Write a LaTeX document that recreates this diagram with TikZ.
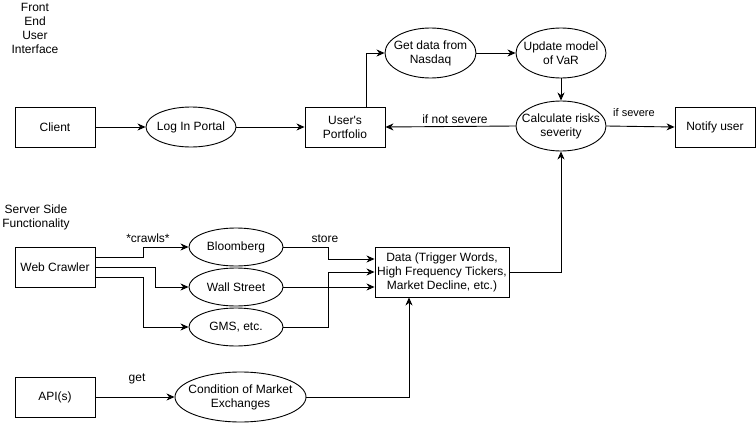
\documentclass[tikz,border=0pt]{standalone}
\usepackage{fontspec}
\setmainfont{Liberation Sans}[Ligatures=TeXOff]
\usetikzlibrary{shapes.geometric,arrows.meta}
\begin{document}
\begin{tikzpicture}[x=1pt,y=-1pt,
  every node/.style={font=\fontsize{12}{14}\selectfont, align=center, inner sep=0pt},
  boxnode/.style={draw, rectangle, line width=0.9pt, minimum width=80pt, minimum height=40pt},
  ellnode/.style={draw, ellipse, line width=0.9pt},
  lbl/.style={font=\fontsize{12}{14}\selectfont},
  arr/.style={line width=0.9pt, -{Stealth[length=8pt,width=7pt,inset=2.5pt]}}]
\useasboundingbox (0,0) rectangle (756,423);
\fill[white] (0,0) rectangle (756,423);

% titles
\node (fetitle) at (35,28) {Front\\End\\User\\Interface};
\node (sstitle) at (36,217) {Server Side\\Functionality};

% front end
\node[boxnode] (client) at (55,127) {Client};
\node[ellnode, minimum width=90pt, minimum height=40pt] (login) at (191,127) {};
\node at (login) {Log In Portal};
\node[boxnode] (portfolio) at (345,127) {User's\\Portfolio};
\node[ellnode, minimum width=91pt, minimum height=50pt] (getdata) at (430.5,53) {};
\node at (getdata) {Get data from\\Nasdaq};
\node[ellnode, minimum width=90pt, minimum height=50pt] (update) at (561,53) {};
\node at (update) {Update model\\of VaR};
\node[ellnode, minimum width=90pt, minimum height=50pt] (calc) at (561,126) {};
\node at (calc) {Calculate risks\\severity};
\node[boxnode] (notify) at (715,127) {Notify user};

% server side
\node[boxnode] (crawler) at (55,267) {Web Crawler};
\node[ellnode, minimum width=94pt, minimum height=38pt] (bloom) at (236,247) {};
\node at (bloom) {Bloomberg};
\node[ellnode, minimum width=94pt, minimum height=38pt] (wall) at (236,287) {};
\node at (wall) {Wall Street};
\node[ellnode, minimum width=94pt, minimum height=38pt] (gms) at (236,327) {};
\node at (gms) {GMS, etc.};
\node[boxnode, minimum width=134pt, minimum height=50pt] (data) at (442,272) {Data (Trigger Words,\\High Frequency Tickers,\\Market Decline, etc.)};
\node[boxnode] (api) at (55,397) {API(s)};
\node[ellnode, minimum width=131pt, minimum height=50pt] (cond) at (240.5,397) {};
\node at (cond) {Condition of Market\\Exchanges};

% connectors
\draw[arr] (client.east) -- (login.west);
\draw[arr] (login.east) -- (portfolio.west);
\draw[arr] ([xshift=21pt]portfolio.north) |- (getdata.west);
\draw[arr] (getdata.east) -- (update.west);
\draw[arr] (update.south) -- (calc.north);
\draw[arr] (calc.west) -- (portfolio.east);
\draw[arr] (calc.east) -- (notify.west);
\node[lbl] (notsevere) at (455,119) {if not severe};
\node[font=\fontsize{11}{13}\selectfont] (severe) at (634,113) {if severe};

\draw[arr] ([yshift=10pt]crawler.east) -- ++(48,0) |- (bloom.west);
\draw[arr] (crawler.east) -- ++(60,0) |- (wall.west);
\draw[arr] ([yshift=-10pt]crawler.east) -- ++(48,0) |- (gms.west);
\node[lbl] (crawls) at (148,238) {*crawls*};

\draw[arr] (bloom.east) -- ++(45,0) |- ([yshift=13pt]data.west);
\draw[arr] (wall.east) -- (wall.east -| data.west);
\draw[arr] (gms.east) -- ++(45,0) |- (data.west);
\node[lbl] (store) at (325,239) {store};

\draw[arr] (data.east) -| (calc.south);
\draw[arr] (api.east) -- (cond.west);
\node[lbl] (get) at (137,379) {get};
\draw[arr] (cond.east) -| ([xshift=-33pt]data.south);
\end{tikzpicture}
\end{document}
